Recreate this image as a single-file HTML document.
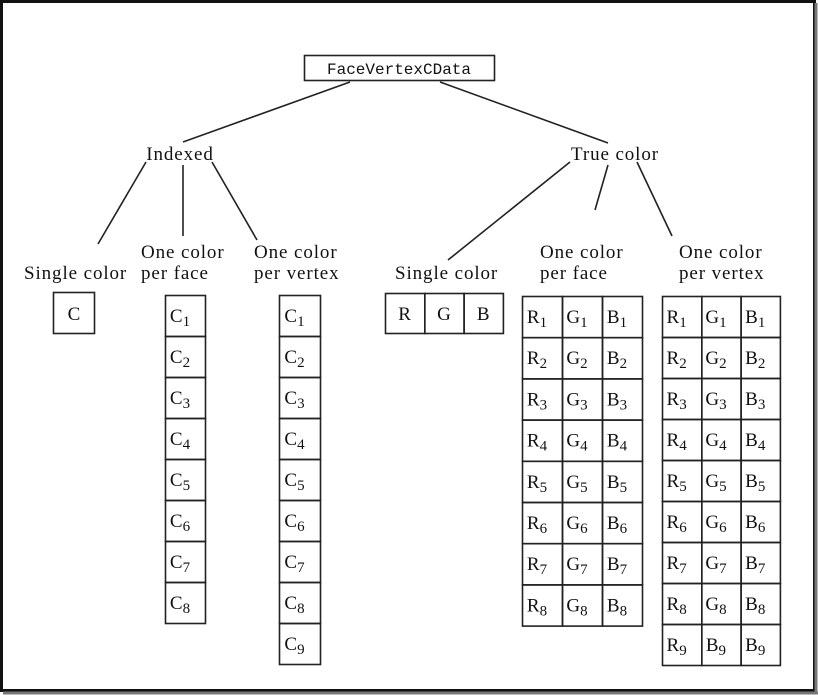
<!DOCTYPE html>
<html><head><meta charset="utf-8">
<style>
html,body{margin:0;padding:0;background:#fff;}
svg{display:block;}
text{font-family:"Liberation Serif",serif;fill:#111;}
.m{font-family:"Liberation Mono",monospace;}
.l{letter-spacing:0.9px;}
</style></head><body>
<svg id="s" width="818" height="695" viewBox="0 0 818 695" xmlns="http://www.w3.org/2000/svg">
<rect x="0" y="0" width="818" height="695" fill="#fff"/>
<rect x="1.5" y="1.5" width="813" height="689" fill="none" stroke="#111" stroke-width="3"/>
<line x1="816" y1="3" x2="816" y2="693" stroke="#777" stroke-width="3"/>
<line x1="3" y1="693" x2="818" y2="693" stroke="#777" stroke-width="3"/>
<g stroke="#222" stroke-width="1.6" fill="none">
<rect x="304.5" y="55.5" width="190" height="25"/>
<line x1="350" y1="82" x2="183" y2="142"/>
<line x1="440" y1="82" x2="608" y2="143"/>
<line x1="146" y1="162" x2="98" y2="244"/>
<line x1="183" y1="165" x2="183" y2="236"/>
<line x1="212" y1="162" x2="257" y2="240"/>
<line x1="570" y1="162" x2="448" y2="260"/>
<line x1="608" y1="165" x2="595" y2="210"/>
<line x1="637" y1="162" x2="672" y2="236"/>
<rect x="53.5" y="292.5" width="41" height="41"/>
</g>
<text class="m" x="399" y="74" font-size="16" text-anchor="middle">FaceVertexCData</text>
<g font-size="19" class="l">
<text x="180" y="160" text-anchor="middle">Indexed</text>
<text x="615" y="160" text-anchor="middle">True color</text>
<text x="24" y="279">Single color</text>
<text x="141" y="258">One color</text><text x="141" y="279">per face</text>
<text x="254" y="258">One color</text><text x="254" y="279">per vertex</text>
<text x="395" y="279">Single color</text>
<text x="540" y="258">One color</text><text x="540" y="279">per face</text>
<text x="679" y="258">One color</text><text x="679" y="279">per vertex</text>
<text x="74" y="320" text-anchor="middle" letter-spacing="0">C</text>
</g>
<g id="cells"></g>
</svg>
<script>
var g=document.getElementById('cells'),h='';
function cell(x,y,w,hh,l,sub){
 h+='<rect x="'+(x+.5)+'" y="'+(y+.5)+'" width="'+w+'" height="'+hh+'" fill="none" stroke="#222" stroke-width="1.6"/>';
 var cx=x+w/2-(sub?5:0);
 h+='<text x="'+cx+'" y="'+(y+27)+'" font-size="19" text-anchor="middle">'+l+(sub?'<tspan font-size="15" dy="4">'+sub+'</tspan>':'')+'</text>';
}
for(var i=0;i<8;i++)cell(165,295+41*i,40,41,'C',i+1);
for(var i=0;i<9;i++)cell(279,295+41*i,41,41,'C',i+1);
['R','G','B'].forEach(function(c,j){cell(385+39.3*j,293,39.3,40,c,'');});
for(var i=0;i<8;i++)['R','G','B'].forEach(function(c,j){cell(522+40*j,296+41.2*i,40,41.2,c,i+1);});
for(var i=0;i<9;i++)['R',i==8?'B':'G','B'].forEach(function(c,j){cell(662+39.3*j,296+41*i,39.3,41,c,i+1);});
g.innerHTML=h;
</script>
</body></html>
